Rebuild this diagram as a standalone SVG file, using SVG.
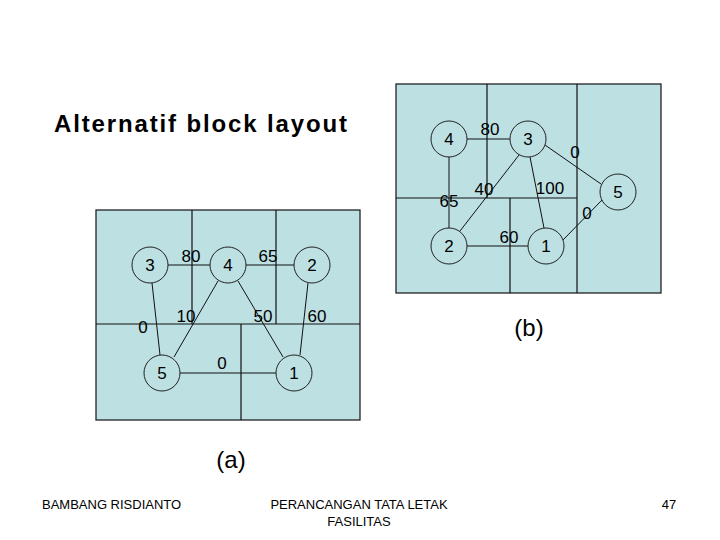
<svg xmlns="http://www.w3.org/2000/svg" width="720" height="540" viewBox="0 0 720 540">
<style>
.bg{fill:#bde0e3;stroke:#222;stroke-width:1.3}
.ln{stroke:#111;stroke-width:1.2;fill:none}
.nd{fill:#bde0e3;stroke:#222;stroke-width:1}
.e{stroke:#111;stroke-width:1;fill:none}
text{font-family:"Liberation Sans",Arial,sans-serif;fill:#000}
.n{font-size:17px;text-anchor:middle}
.w{font-size:17px;text-anchor:middle}
.f{font-size:13px}
</style>
<rect width="720" height="540" fill="#fff"/>
<text x="54" y="132" font-size="24" font-weight="bold" textLength="293" lengthAdjust="spacing">Alternatif block layout</text>
<g id="panel-b">
<rect class="bg" x="396" y="84" width="265" height="209"/>
<path class="ln" d="M487 84V198M577 84V293M396 198H577M510 198V293"/>
</g>
<g id="panel-a">
<rect class="bg" x="96" y="210" width="264" height="210"/>
<path class="ln" d="M192 210V324M276 210V324M96 324H360M241 324V420"/>
</g>
<g id="connectors">
<path class="e" d="M467 139H510M449 157V228M519 155L460 231M530 157L544 228M545 145L601 184M467 246H528M563 240L602 200"/>
<path class="e" d="M168 265H210M246 265H294M152 283L160 355M218 281L174 357M238 281L283 357M308 283L300 355M180 373H276"/>
<text class="w" x="490" y="135">80</text>
<text class="w" x="575" y="158">0</text>
<text class="w" x="449" y="207">65</text>
<text class="w" x="484" y="195">40</text>
<text class="w" x="550" y="194">100</text>
<text class="w" x="587" y="219">0</text>
<text class="w" x="509" y="243">60</text>
<text class="w" x="191" y="262">80</text>
<text class="w" x="268" y="262">65</text>
<text class="w" x="186" y="322">10</text>
<text class="w" x="263" y="322">50</text>
<text class="w" x="317" y="322">60</text>
<text class="w" x="143" y="333">0</text>
<text class="w" x="222" y="369">0</text>
</g>
<g id="b4"><circle class="nd" cx="449" cy="139" r="18"/><text class="n" x="449" y="145">4</text></g>
<g id="b3"><circle class="nd" cx="528" cy="139" r="18"/><text class="n" x="528" y="145">3</text></g>
<g id="b5"><circle class="nd" cx="618" cy="192" r="18"/><text class="n" x="618" y="198">5</text></g>
<g id="b2"><circle class="nd" cx="449" cy="246" r="18"/><text class="n" x="449" y="252">2</text></g>
<g id="b1"><circle class="nd" cx="546" cy="246" r="18"/><text class="n" x="546" y="252">1</text></g>
<g id="a3"><circle class="nd" cx="150" cy="265" r="18"/><text class="n" x="150" y="271">3</text></g>
<g id="a4"><circle class="nd" cx="228" cy="265" r="18"/><text class="n" x="228" y="271">4</text></g>
<g id="a2"><circle class="nd" cx="312" cy="265" r="18"/><text class="n" x="312" y="271">2</text></g>
<g id="a5"><circle class="nd" cx="162" cy="373" r="18"/><text class="n" x="162" y="379">5</text></g>
<g id="a1"><circle class="nd" cx="294" cy="373" r="18"/><text class="n" x="294" y="379">1</text></g>
<text x="231" y="468" font-size="24" text-anchor="middle">(a)</text>
<text x="529" y="336" font-size="24" text-anchor="middle">(b)</text>
<text class="f" x="42" y="509">BAMBANG RISDIANTO</text>
<text class="f" x="359" y="509" text-anchor="middle">PERANCANGAN TATA LETAK</text>
<text class="f" x="359" y="526" text-anchor="middle">FASILITAS</text>
<text class="f" x="669" y="509" text-anchor="middle">47</text>
</svg>
